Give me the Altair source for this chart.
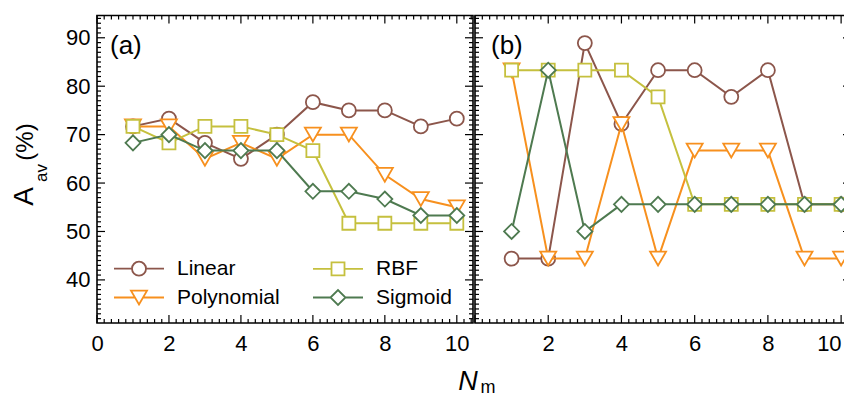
import altair as alt
import pandas as pd

FONT = "Liberation Sans"

# ---------------- data ----------------
n_models = [1, 2, 3, 4, 5, 6, 7, 8, 9, 10]
kernels = ["Linear", "Polynomial", "RBF", "Sigmoid"]
colors = ["#8C564B", "#F7901E", "#C5C03E", "#4E7A50"]
shapes = ["circle", "triangle-down", "square", "diamond"]

# panel (a)
a_linear = [71.7, 73.3, 68.3, 65.0, 70.0, 76.7, 75.0, 75.0, 71.7, 73.3]
a_poly = [71.7, 71.7, 65.0, 68.3, 65.0, 70.0, 70.0, 61.7, 56.7, 55.0]
a_rbf = [71.7, 68.3, 71.7, 71.7, 70.0, 66.7, 51.7, 51.7, 51.7, 51.7]
a_sigmoid = [68.3, 70.0, 66.7, 66.7, 66.7, 58.3, 58.3, 56.7, 53.3, 53.3]

# panel (b)
b_linear = [44.4, 44.4, 88.9, 72.2, 83.3, 83.3, 77.8, 83.3, 55.6, 55.6]
b_poly = [83.3, 44.4, 44.4, 72.2, 44.4, 66.7, 66.7, 66.7, 44.4, 44.4]
b_rbf = [83.3, 83.3, 83.3, 83.3, 77.8, 55.6, 55.6, 55.6, 55.6, 55.6]
b_sigmoid = [50.0, 83.3, 50.0, 55.6, 55.6, 55.6, 55.6, 55.6, 55.6, 55.6]

y_tick_labels = [40, 50, 60, 70, 80, 90]
left_x_labels = [0, 2, 4, 6, 8, 10]
right_x_labels = [2, 4, 6, 8, 10]
panel_labels = ["(a)", "(b)"]
x_title = ["N", "m"]
y_title = ["A", "av", "(%)"]

# ---------------- styling ----------------
marker_sizes = [196, 256, 169, 225]
YDOM = [31.1, 94.6]
H = 307.5
W_LEFT, W_RIGHT = 376, 376
XDOM_LEFT = [0, 10.45]
XDOM_RIGHT = [0, 10.27]
MAJ, MIN = 8, 4

# legend symbols: line + marker, path units scaled by sqrt(400)/2 = 10 px
legend_order = ["Linear", "Polynomial", "RBF", "Sigmoid"]
legend_colors = [colors[kernels.index(k)] for k in legend_order]
paths = {
    "Linear": "M-2.5,0L-0.7,0M0.7,0L2.5,0M-0.7,0A0.7,0.7,0,1,0,0.7,0A0.7,0.7,0,1,0,-0.7,0Z",
    "Polynomial": "M-2.5,0L-0.4,0M0.4,0L2.5,0M-0.8,-0.69L0.8,-0.69L0,0.69Z",
    "RBF": "M-2.5,0L-0.65,0M0.65,0L2.5,0M-0.65,-0.65L0.65,-0.65L0.65,0.65L-0.65,0.65Z",
    "Sigmoid": "M-2.5,0L-0.75,0M0.75,0L2.5,0M-0.75,0L0,-0.75L0.75,0L0,0.75Z",
}
legend_paths = [paths[k] for k in legend_order]


def frange(start, stop, step):
    out = []
    i = 0
    while True:
        v = round(start + i * step, 4)
        if v > stop + 1e-9:
            break
        out.append(v)
        i += 1
    return out


def build_panel(series, xdom, width, x_labels, show_y_labels, extra, last_label_right=False):
    xs = alt.Scale(domain=xdom, nice=False, zero=False)
    ys = alt.Scale(domain=YDOM, nice=False, zero=False)
    x_align = "center"
    if last_label_right:
        x_align = {"condition": {"test": f"datum.value >= {x_labels[-1]}", "value": "right"},
                   "value": "center"}
    xaxis = alt.Axis(values=x_labels, ticks=False, tickSize=0, domain=False, grid=False,
                     labelFontSize=22, labelFont=FONT, labelColor="black", labelPadding=10,
                     labelFlush=False, labelOverlap=False, labelAlign=x_align, title=None)
    if show_y_labels:
        yaxis = alt.Axis(values=y_tick_labels, ticks=False, tickSize=0, domain=False, grid=False,
                         labelFontSize=22, labelFont=FONT, labelColor="black", labelPadding=7,
                         labelFlush=False, labelOverlap=False, title=None)
    else:
        yaxis = None

    layers = []
    # ticks (inward on all four sides)
    x_major = [v for v in frange(0, xdom[1], 2)]
    x_minor = [v for v in frange(0, xdom[1], 0.2) if abs(v / 2 - round(v / 2)) > 1e-6]
    y_major = [v for v in frange(40, YDOM[1], 10)]
    y_minor = [v for v in frange(32, YDOM[1], 1) if v % 10 != 0]
    for vals, L in ((x_major, MAJ), (x_minor, MIN)):
        d = pd.DataFrame({"v": vals})
        X = alt.X("v:Q", scale=xs, axis=xaxis)
        layers.append(alt.Chart(d).mark_rule(color="black", strokeWidth=1.2).encode(
            x=X, y=alt.value(0), y2=alt.value(L)))
        layers.append(alt.Chart(d).mark_rule(color="black", strokeWidth=1.2).encode(
            x=X, y=alt.value(H), y2=alt.value(H - L)))
    for vals, L in ((y_major, MAJ), (y_minor, MIN)):
        d = pd.DataFrame({"v": vals})
        Y = alt.Y("v:Q", scale=ys, axis=yaxis)
        layers.append(alt.Chart(d).mark_rule(color="black", strokeWidth=1.2).encode(
            y=Y, x=alt.value(0), x2=alt.value(L)))
        layers.append(alt.Chart(d).mark_rule(color="black", strokeWidth=1.2).encode(
            y=Y, x=alt.value(width), x2=alt.value(width - L)))

    # data series
    for name, vals, color, shape, size in series:
        df = pd.DataFrame({"n": n_models, "acc": vals, "kernel": name})
        enc = dict(x=alt.X("n:Q", scale=xs, axis=xaxis), y=alt.Y("acc:Q", scale=ys, axis=yaxis))
        layers.append(alt.Chart(df).mark_line(color=color, strokeWidth=2).encode(**enc))
        layers.append(alt.Chart(df).mark_point(shape=shape, size=size, stroke=color, fill="white",
                                               fillOpacity=1, strokeWidth=1.8, opacity=1,
                                               filled=False).encode(**enc))
    layers.extend(extra)
    return alt.layer(*layers).properties(width=width, height=H)


def series_of(vals_list):
    return [(k, v, c, s, sz) for k, v, c, s, sz in zip(kernels, vals_list, colors, shapes, marker_sizes)]


def text_layer(txt, x, y, size, angle=0, italic=False, align="center", baseline="middle"):
    d = pd.DataFrame({"t": [txt]})
    kw = dict(font=FONT, fontSize=size, color="black", align=align, baseline=baseline)
    if angle:
        kw["angle"] = angle
    if italic:
        kw["fontStyle"] = "italic"
    return alt.Chart(d).mark_text(**kw).encode(text="t:N", x=alt.value(x), y=alt.value(y))


legend = alt.Legend(title=None, orient="none", legendX=31, legendY=242, columns=2,
                    symbolSize=400, symbolStrokeWidth=1.8, labelFontSize=21, labelFont=FONT,
                    labelColor="black", labelOffset=27, columnPadding=29, rowPadding=6,
                    padding=0, symbolFillColor="white", symbolOpacity=1)
legend_layer = alt.Chart(pd.DataFrame({"kernel": kernels})).mark_point(filled=False, opacity=1).encode(
    color=alt.Color("kernel:N", scale=alt.Scale(domain=legend_order, range=legend_colors), legend=legend),
    shape=alt.Shape("kernel:N", scale=alt.Scale(domain=legend_order, range=legend_paths), legend=legend),
).transform_filter("false")

left_extra = [
    text_layer(panel_labels[0], 13, 30.5, 26, align="left"),
    text_layer(x_title[0], 371, 366, 27, italic=True),
    text_layer(x_title[1], 391, 372, 18),
    text_layer(y_title[0], -72, 181, 28, angle=270),
    text_layer(y_title[1], -55, 157.5, 17, angle=270),
    text_layer(y_title[2], -71.5, 126.5, 24, angle=270),
    legend_layer,
]
right_extra = [text_layer(panel_labels[1], 16, 30.5, 26, align="left")]

left = build_panel(series_of([a_linear, a_poly, a_rbf, a_sigmoid]), XDOM_LEFT, W_LEFT,
                   left_x_labels, True, left_extra)
right = build_panel(series_of([b_linear, b_poly, b_rbf, b_sigmoid]), XDOM_RIGHT, W_RIGHT,
                    right_x_labels, False, right_extra, last_label_right=True)

SVG_W, SVG_H = 836, 380
PAD_L, PAD_T = 89, 7.5

chart = alt.hconcat(left, right, spacing=2, bounds="flush").resolve_legend(
    color="independent", shape="independent"
).properties(
    autosize=alt.AutoSizeParams(type="none"),
    padding={"left": PAD_L, "top": PAD_T, "right": SVG_W - PAD_L, "bottom": SVG_H - PAD_T},
    background="white",
).configure_view(stroke="black", strokeWidth=1.6)

chart.save("out.html", embed_options={"renderer": "svg", "actions": False})
